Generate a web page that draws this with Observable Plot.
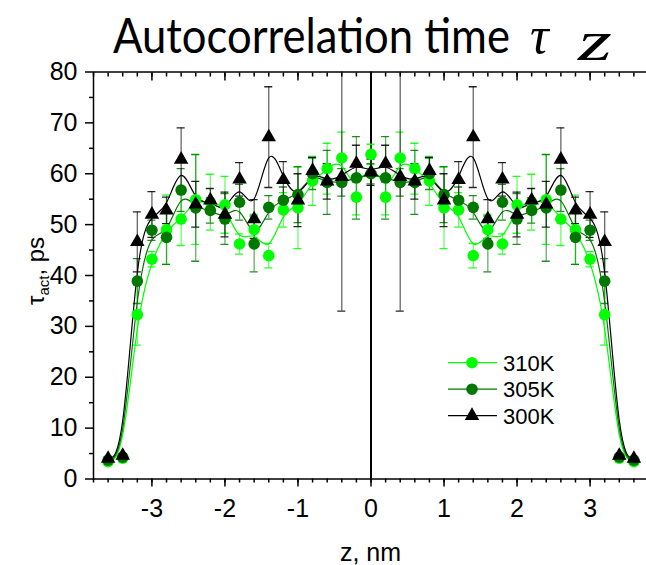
<!DOCTYPE html>
<html><head><meta charset="utf-8">
<script src="https://cdn.jsdelivr.net/npm/d3@7"></script>
<script src="https://cdn.jsdelivr.net/npm/@observablehq/plot@0.6"></script>
<style>
html,body{margin:0;padding:0;background:#fff;overflow:hidden;width:646px;height:565px}
body{position:relative}
#title{position:absolute;left:0;top:0;z-index:2}
#chart{padding-top:60px;width:650px}
</style></head><body>
<svg id="title" width="646" height="72"></svg>
<div id="chart"></div>
<script>
// ---- data ----
const z = [-3.6,-3.4,-3.2,-3.0,-2.8,-2.6,-2.4,-2.2,-2.0,-1.8,-1.6,-1.4,-1.2,-1.0,-0.8,-0.6,-0.4,-0.2,0,
           0.2,0.4,0.6,0.8,1.0,1.2,1.4,1.6,1.8,2.0,2.2,2.4,2.6,2.8,3.0,3.2,3.4,3.6];
const tau300 = [4.0,4.6,46.6,52.0,52.8,62.8,54.0,54.8,52.0,58.9,51.1,67.2,58.8,54.8,60.6,58.5,59.4,62.0,60.3,
                62.0,59.4,58.5,60.6,54.8,58.8,67.2,51.1,58.9,52.0,54.8,54.0,62.8,52.8,52.0,46.6,4.6,4.0];
const err300 = [0.3,0.3,5.9,4.5,2.6,6.2,4.5,2.3,4.4,3.3,3.8,9.9,3.6,5.2,2.6,3.5,26.4,3.6,2.6,
                3.6,26.4,3.5,2.6,5.2,3.6,9.9,3.8,3.3,4.4,2.3,4.5,6.2,2.6,4.5,5.9,0.3,0.3];
const tau305 = [3.7,4.3,38.9,48.9,47.5,56.8,53.3,52.8,51.1,54.4,46.2,53.4,54.8,55.9,60.0,58.3,58.3,59.2,60.0,
                59.2,58.3,58.3,60.0,55.9,54.8,53.4,46.2,54.4,51.1,52.8,53.3,56.8,47.5,48.9,38.9,4.3,3.7];
const err305 = [0.3,0.3,4.4,2.0,5.3,4.2,10.5,2.5,5.0,3.5,5.5,2.3,2.6,5.5,3.1,6.3,2.7,8.1,2.0,
                8.1,2.7,6.3,3.1,5.5,2.6,2.3,5.5,3.5,5.0,2.5,10.5,4.2,5.3,2.0,4.4,0.3,0.3];
const tau310 = [3.4,4.1,32.3,43.2,49.0,51.1,54.9,54.4,53.9,46.2,49.0,43.9,52.9,53.3,58.6,61.0,63.1,55.4,63.8,
                55.4,63.1,61.0,58.6,53.3,52.9,43.9,49.0,46.2,53.9,54.4,54.9,51.1,49.0,43.2,32.3,4.1,3.4];
const err310 = [0.3,0.3,6.0,1.5,6.8,5.2,8.8,5.5,5.6,2.0,3.0,2.4,3.4,8.0,4.8,5.0,5.1,3.5,2.0,
                3.5,5.1,5.0,4.8,8.0,3.4,2.4,3.0,2.0,5.6,5.5,8.8,5.2,6.8,1.5,6.0,0.3,0.3];
const seriesNames = ["310K","305K","300K"];
const seriesColors = ["#00ff00","#007800","#000000"];
const seriesSymbols = ["circle","circle","triangle"];
const xMajorTicks = [-3,-2,-1,0,1,2,3];
const yMajorTicks = [0,10,20,30,40,50,60,70,80];
const yMinorTicks = [5,15,25,35,45,55,65,75];
const xMinorTicks = d3.range(-19,20).map(i => i/5);

const values = [tau310, tau305, tau300];
const errors = [err310, err305, err300];
const series = seriesNames.map((name,k) => ({
  name, color: seriesColors[k], symbol: seriesSymbols[k],
  r: seriesSymbols[k] === "triangle" ? 5.4 : 5.8,
  rows: z.map((zz,i) => ({z: zz, v: values[k][i], e: errors[k][i]}))
}));

const FONT = "Liberation Sans, Arial, sans-serif";
const marks = [];
for (const s of series) {
  marks.push(Plot.ruleX(s.rows, {x:"z", y1:d=>d.v-d.e, y2:d=>d.v+d.e, stroke:s.color, strokeOpacity:0.6, strokeWidth:1.3, clip:true}));
  marks.push(Plot.ruleY(s.rows, {y:d=>d.v+d.e, x1:d=>d.z-0.055, x2:d=>d.z+0.055, stroke:s.color, strokeOpacity:0.85, strokeWidth:1.3, clip:true}));
  marks.push(Plot.ruleY(s.rows, {y:d=>d.v-d.e, x1:d=>d.z-0.055, x2:d=>d.z+0.055, stroke:s.color, strokeOpacity:0.85, strokeWidth:1.3, clip:true}));
}
for (const s of series) {
  marks.push(Plot.line(s.rows, {x:"z", y:"v", stroke:s.color, strokeWidth:1.2, curve:"basis"}));
}
for (const s of series) {
  marks.push(Plot.dot(s.rows, {x:"z", y:"v", fill:s.color, stroke:"none", r:s.r, symbol:s.symbol}));
}

const chart = Plot.plot({
  width: 650, height: 505,
  marginLeft: 93, marginRight: 2, marginTop: 11.5, marginBottom: 86.5,
  style: {fontFamily: FONT, background: "transparent", overflow: "visible", maxWidth: "none"},
  x: {domain: [-3.8, 3.8]},
  y: {domain: [0, 80]},
  marks: [
    Plot.ruleX([0], {stroke:"black", strokeWidth:2}),
    ...marks,
    Plot.frame({stroke:"black", strokeWidth:1.5}),
    Plot.axisY({ticks: yMajorTicks, tickSize: 8, tickPadding: 8, fontSize: 25, strokeWidth: 1.5, label: null, tickFormat: d => String(d)}),
    Plot.axisY({ticks: yMinorTicks, tickSize: 4, strokeWidth: 1.5, label: null, tickFormat: () => ""}),
    Plot.axisX({ticks: xMajorTicks, tickSize: 8, tickPadding: 12, fontSize: 25, strokeWidth: 1.5, label: null, tickFormat: d => String(d)}),
    Plot.axisX({ticks: xMinorTicks, tickSize: 4, strokeWidth: 1.5, label: null, tickFormat: () => ""}),
    Plot.axisX({anchor: "top", ticks: xMajorTicks, tickSize: -8, strokeWidth: 1.5, label: null, tickFormat: () => ""}),
    Plot.axisX({anchor: "top", ticks: xMinorTicks, tickSize: -4, strokeWidth: 1.5, label: null, tickFormat: () => ""})
  ]
});
document.getElementById("chart").appendChild(chart);

const svg = d3.select(chart);
// axis titles
const yl = svg.append("text").attr("transform","translate(44,211) rotate(-90)")
  .attr("text-anchor","middle").attr("font-family",FONT).attr("font-size",24).attr("fill","black");
yl.append("tspan").text("τ");
yl.append("tspan").attr("font-size",15).attr("dy",5).text("act");
yl.append("tspan").attr("dy",-5).text(", ps");
svg.append("text").attr("x",370.5).attr("y",501).attr("text-anchor","middle")
  .attr("font-family",FONT).attr("font-size",25).attr("fill","black").text("z, nm");

// legend
const lg = svg.append("g").attr("text-anchor","start");
series.forEach((s,i) => {
  const y = 302.7 + i*26.5;
  lg.append("line").attr("x1",448).attr("x2",497).attr("y1",y).attr("y2",y)
    .attr("stroke",s.color).attr("stroke-width",1.2);
  const sym = s.symbol === "triangle" ? d3.symbolTriangle : d3.symbolCircle;
  lg.append("path").attr("d", d3.symbol(sym, Math.PI*s.r*s.r)()).attr("transform",`translate(472,${y})`)
    .attr("fill",s.color);
  lg.append("text").attr("x",503).attr("y",y).attr("dy","0.36em").attr("text-anchor","start").attr("font-family",FONT)
    .attr("font-size",22).attr("fill","black").text(s.name);
});

// title
const t = d3.select("#title");
const main = t.append("text").attr("x",0).attr("y",0).attr("fill","black")
  .attr("font-family","Lato, Open Sans, sans-serif").attr("font-size",48).text("Autocorrelation time");
const natural = main.node().getComputedTextLength();
main.attr("transform",`translate(113,53) scale(${397/natural},1)`);
t.append("text").attr("x",530).attr("y",53).attr("fill","black").attr("font-family","Liberation Serif, serif")
  .attr("font-style","italic").attr("font-size",52).text("τ");
const zt = t.append("text").attr("x",0).attr("y",0).attr("fill","black").attr("font-family","Liberation Serif, serif")
  .attr("font-style","italic").attr("font-size",58).text("z");
const zw = zt.node().getComputedTextLength();
zt.attr("transform",`translate(578,60) scale(${34/zw},1)`);
</script>
</body></html>
